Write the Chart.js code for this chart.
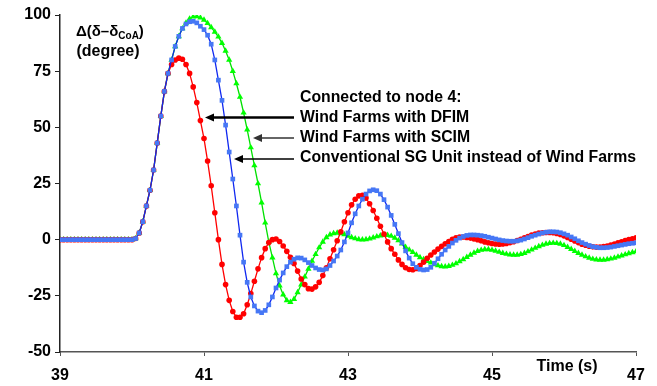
<!DOCTYPE html>
<html>
<head>
<meta charset="utf-8">
<script src="https://cdn.jsdelivr.net/npm/chart.js@4.4.1/dist/chart.umd.min.js"></script>
<style>
  html, body { margin: 0; padding: 0; background: #fff; }
  #wrap { width: 657px; height: 386px; }
</style>
</head>
<body>
<div id="wrap"><canvas id="chart" width="657" height="386"></canvas></div>
<script>
// time grid, 0.05 s sampling from 39 s to 47 s
const timeS = [];
for (let i = 0; i <= 160; i++) timeS.push(+(39 + i * 0.05).toFixed(2));

// Δ(δ–δCoA) in degrees
const dfimDelta = [
  0, 0, 0, 0, 0, 0, 0, 0, 0, 0, 0, 0, 0, 0, 0, 0, 0, 0, 0, 0, 0,
  0.5, 3, 8, 15, 22, 31, 43, 55, 66, 74,
  78, 80, 80.8, 80.3, 78, 74, 68, 61, 53, 45,
  35, 24, 12, 0, -11, -20, -27, -32, -34.5, -34.5,
  -33, -29, -24, -18.5, -13, -8, -4, -1.3, 0, 0.3,
  -0.8, -2.8, -5.2, -7.8, -10.6, -14, -17.5, -20, -21.8, -22,
  -21, -19, -16, -12.5, -8.5, -4.5, -0.5, 3.5, 8, 12,
  15.5, 18, 19.5, 19.8, 18.5, 16, 13, 9.5, 6, 2.5,
  -1, -4, -6.5, -9, -11, -12.5, -13.3, -13.4, -12.8, -11.5,
  -10, -8.3, -6.8, -5.5, -4.2, -3, -1.8, -0.8, 0.2, 0.8,
  1.2, 1.2, 1, 0.7, 0.3, 0, -0.5, -1, -1.4, -1.7,
  -1.9, -2, -1.9, -1.7, -1.3, -0.9, -0.4, 0.2, 0.8, 1.4,
  2, 2.5, 2.9, 3.1, 3.2, 3.2, 3.1, 2.8, 2.3, 1.7,
  1, 0.2, -0.6, -1.3, -2, -2.5, -2.9, -3.2, -3.3, -3.3,
  -3.1, -2.8, -2.4, -1.9, -1.4, -0.9, -0.4, 0, 0.4, 0.8
];
const scimDelta = [
  0, 0, 0, 0, 0, 0, 0, 0, 0, 0, 0, 0, 0, 0, 0, 0, 0, 0, 0, 0, 0,
  0.5, 3, 8, 15, 22, 31, 43, 55, 66, 74,
  80, 86, 90.5, 94, 96.5, 98.3, 99.2, 99.3, 98.8, 97.8,
  96.3, 94.5, 92.5, 90.3, 87.5, 84, 80, 75, 69.5, 63.5,
  56.5, 49, 41, 33, 25, 16.5, 7.5, -1, -8, -15,
  -20.5, -24.5, -27, -27.8, -26.5, -23.5, -20, -16.5, -13, -9.5,
  -6.5, -3.5, -1, 1, 2.2, 2.8, 3, 2.8, 2.3, 1.6,
  1, 0.5, 0.1, 0, 0.1, 0.4, 0.9, 1.4, 1.8, 2,
  2, 1.6, 0.8, -0.4, -1.8, -3.3, -4.5, -5.6, -6.8, -7.9,
  -8.8, -9.6, -10.3, -11, -11.5, -11.9, -12, -11.8, -11.3, -10.6,
  -9.7, -8.8, -7.8, -6.8, -5.9, -5.1, -4.6, -4.3, -4.3, -4.6,
  -5, -5.5, -6, -6.4, -6.7, -6.8, -6.8, -6.5, -6, -5.3,
  -4.5, -3.7, -3, -2.4, -1.9, -1.6, -1.5, -1.6, -1.9, -2.5,
  -3.3, -4.2, -5.1, -6, -6.8, -7.5, -8.1, -8.6, -8.9, -9,
  -9, -8.8, -8.5, -8.1, -7.6, -7.1, -6.6, -6.1, -5.7, -5.3
];
const sgDelta = [
  0, 0, 0, 0, 0, 0, 0, 0, 0, 0, 0, 0, 0, 0, 0, 0, 0, 0, 0, 0, 0,
  0.5, 3, 8, 15, 22, 31, 43, 55, 66, 74,
  80, 86, 90.5, 94, 96, 97, 97.2, 96.5, 95, 93.5,
  91, 87, 80, 71, 62, 51, 39, 27, 15, 2,
  -10, -19, -25.5, -29.5, -31.8, -32.5, -31.5, -29, -25.5, -21.5,
  -18, -14.8, -12, -10, -8.7, -8.1, -8.2, -9, -10.2, -11.5,
  -12.6, -13.3, -13.5, -13, -11.5, -9.5, -7.3, -4.6, -1, 3,
  7.5, 11.5, 15, 18, 20.3, 21.7, 22.2, 21.8, 20.3, 17.8,
  14.5, 10.8, 6.8, 2.7, -1.3, -5, -8.2, -10.7, -12.3, -13.2,
  -13.5, -13.3, -12.3, -10.5, -8.5, -6.5, -4.6, -3, -1.5, -0.3,
  0.7, 1.4, 1.9, 2.1, 2.1, 2, 1.8, 1.5, 1.1, 0.7,
  0.3, -0.1, -0.4, -0.6, -0.7, -0.7, -0.5, -0.2, 0.3, 0.9,
  1.5, 2, 2.5, 3, 3.3, 3.5, 3.5, 3.4, 3.1, 2.6,
  2, 1.2, 0.4, -0.5, -1.3, -2, -2.6, -3.1, -3.4, -3.6,
  -3.6, -3.5, -3.3, -3, -2.7, -2.4, -2.1, -1.8, -1.6, -1.4
];

const xTicks = [39, 41, 43, 45, 47];
const yTicks = [-50, -25, 0, 25, 50, 75, 100];

const noteLines = [
  'Connected to node 4:',
  'Wind Farms with DFIM',
  'Wind Farms with SCIM',
  'Conventional SG Unit instead of Wind Farms'
];

const FONT = '"Liberation Sans", Arial, sans-serif';

function pts(arr) {
  return arr.map((v, i) => ({ x: timeS[i], y: v }));
}

function arrow(c, x1, x2, y, w, col) {
  c.strokeStyle = col;
  c.fillStyle = col;
  c.lineWidth = w;
  c.beginPath();
  c.moveTo(x1, y);
  c.lineTo(x2 + 6, y);
  c.stroke();
  c.beginPath();
  c.moveTo(x2, y);
  c.lineTo(x2 + 9, y - 4);
  c.lineTo(x2 + 9, y + 4);
  c.closePath();
  c.fill();
}

const notes = {
  id: 'notes',
  afterDraw(chart) {
    const c = chart.ctx;
    c.save();
    c.fillStyle = '#000';
    c.textBaseline = 'middle';
    c.textAlign = 'left';

    // y axis title
    c.font = 'bold 15px ' + FONT;
    let x = 76;
    c.fillText('Δ(δ–δ', x, 32);
    x += c.measureText('Δ(δ–δ').width;
    c.font = 'bold 10px ' + FONT;
    c.fillText('CoA', x, 36);
    x += c.measureText('CoA').width;
    c.font = 'bold 15px ' + FONT;
    c.fillText(')', x, 32);
    c.textAlign = 'center';
    c.font = 'bold 16px ' + FONT;
    c.fillText('(degree)', 108, 52);

    // x axis title
    c.fillText('Time (s)', 567, 367);

    // legend text
    c.textAlign = 'left';
    const ys = [98, 118, 138, 158];
    c.font = 'bold 15.8px ' + FONT;
    noteLines.forEach((t, i) => c.fillText(t, 300, ys[i]));

    // arrows
    arrow(c, 294, 205, 117.5, 2.5, '#000');
    arrow(c, 294, 253, 138, 1.5, '#333');
    arrow(c, 294, 234, 159, 1.5, '#000');
    c.restore();
  }
};

Chart.defaults.font.family = FONT;
Chart.defaults.font.weight = 'bold';
Chart.defaults.font.size = 16;
Chart.defaults.color = '#000';

const ctx = document.getElementById('chart');
new Chart(ctx, {
  type: 'line',
  data: {
    datasets: [
      {
        label: 'Wind Farms with DFIM',
        data: pts(dfimDelta),
        borderColor: '#ff0000',
        backgroundColor: '#ff0000',
        borderWidth: 1.3,
        pointStyle: 'circle',
        pointRadius: 2.8,
        pointBorderWidth: 0,
        order: 2
      },
      {
        label: 'Wind Farms with SCIM',
        data: pts(scimDelta),
        borderColor: '#00e000',
        backgroundColor: '#00ff00',
        borderWidth: 1.3,
        pointStyle: 'triangle',
        pointRadius: 3.6,
        pointBorderWidth: 0,
        order: 3
      },
      {
        label: 'Conventional SG Unit instead of Wind Farms',
        data: pts(sgDelta),
        borderColor: '#1028f0',
        backgroundColor: '#4677f5',
        borderWidth: 1.3,
        pointStyle: 'rect',
        pointRadius: 3.3,
        pointBorderWidth: 0,
        order: 1
      }
    ]
  },
  options: {
    responsive: false,
    animation: false,
    events: [],
    layout: { padding: { top: 15, right: 21, left: 0, bottom: 0 } },
    plugins: { legend: { display: false }, tooltip: { enabled: false } },
    scales: {
      x: {
        type: 'linear',
        min: 39,
        max: 47,
        afterBuildTicks: s => { s.ticks = xTicks.map(v => ({ value: v })); },
        afterFit: s => { s.height = 34; },
        ticks: { padding: 10, maxRotation: 0 },
        grid: { drawOnChartArea: false, drawTicks: true, tickLength: 4, color: '#555' },
        border: { display: true, color: '#555', width: 1.5 }
      },
      y: {
        min: -50,
        max: 100,
        afterBuildTicks: s => { s.ticks = yTicks.map(v => ({ value: v })); },
        afterFit: s => { s.width = 60; },
        ticks: { padding: 4 },
        grid: { drawOnChartArea: false, drawTicks: true, tickLength: 5, color: '#222' },
        border: { display: true, color: '#222', width: 1.5 }
      }
    }
  },
  plugins: [notes]
});
</script>
</body>
</html>
